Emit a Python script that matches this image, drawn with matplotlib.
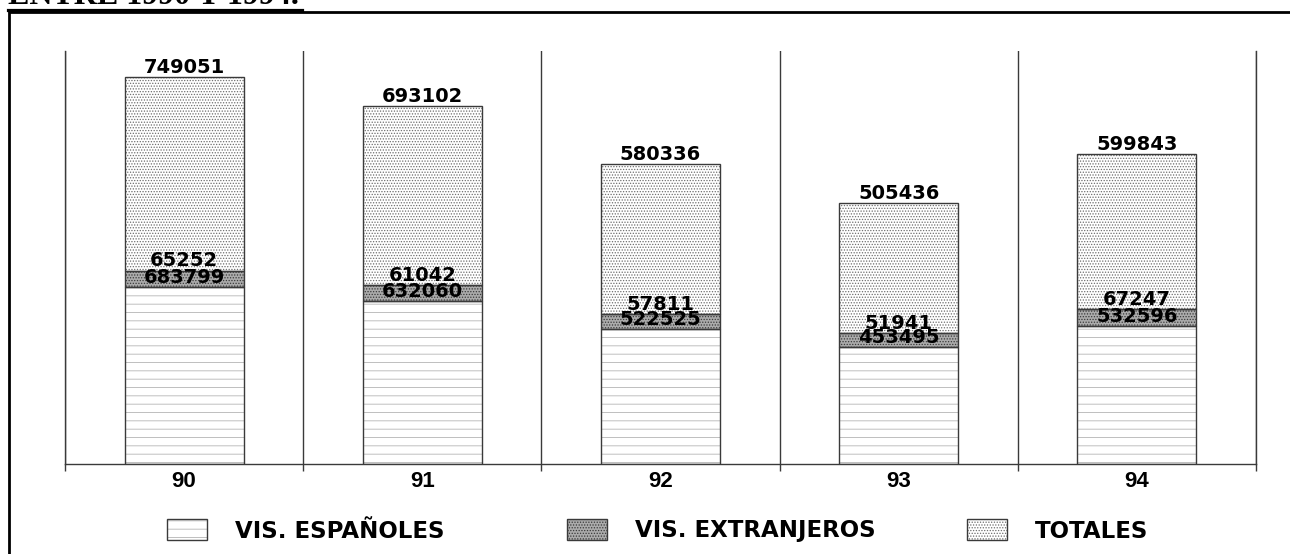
import numpy as np
import matplotlib
matplotlib.use('Agg')
import matplotlib.pyplot as plt
from matplotlib.patches import Rectangle
from matplotlib.lines import Line2D

# datos
anios = ['90', '91', '92', '93', '94']
vis_espanoles = [683799, 632060, 522525, 453495, 532596]
vis_extranjeros = [65252, 61042, 57811, 51941, 67247]
totales = [749051, 693102, 580336, 505436, 599843]
series_nombres = ['VIS. ESPAÑOLES', 'VIS. EXTRANJEROS', 'TOTALES']
titulo = 'ENTRE 1990 Y 1994.'

W, H = 1290, 554
fig = plt.figure(figsize=(W / 100, H / 100), dpi=100)
plt.rcParams['hatch.linewidth'] = 0.6

ax = fig.add_axes([65 / W, 1 - 464 / H, (1256 - 65) / W, (464 - 50.7) / H])

x = np.arange(len(anios))
estilos = [
    dict(facecolor='white', hatch='--', hcolor='#b4b4b4'),
    dict(facecolor='#ababab', hatch='......', hcolor='#3a3a3a'),
    dict(facecolor='white', hatch='......', hcolor='#6e6e6e'),
]
series = [vis_espanoles, vis_extranjeros, totales]

base = np.zeros(len(anios))
for valores, est in zip(series, estilos):
    valores = np.array(valores)
    ax.bar(x, valores, 0.5, bottom=base, color=est['facecolor'],
           hatch=est['hatch'], edgecolor=est['hcolor'], linewidth=0, zorder=2)
    ax.bar(x, valores, 0.5, bottom=base, fill=False, edgecolor='#3a3a3a',
           linewidth=1, zorder=3)
    tope = base + valores
    for xi, yi, v in zip(x, tope, valores):
        ax.annotate(str(v), (xi, yi), xytext=(0, 3), textcoords='offset points',
                    ha='center', va='baseline', fontsize=14, fontweight='bold',
                    family='DejaVu Sans', zorder=5)
    base = tope

ax.set_xlim(-0.5, len(anios) - 0.5)
ax.set_ylim(0, 1600000)
ax.set_xticks(x)
ax.set_xticklabels(anios, fontsize=16, fontweight='bold', family='Liberation Sans')
ax.set_xticks(np.arange(len(anios) + 1) - 0.5, minor=True)
ax.tick_params(axis='x', which='major', length=0, pad=5)
ax.tick_params(axis='x', which='minor', length=5, width=1, color='#3a3a3a', direction='out')
ax.set_yticks([])
ax.xaxis.grid(True, which='minor', color='#3a3a3a', linewidth=1)
ax.spines['top'].set_visible(False)
for s in ['bottom', 'left', 'right']:
    ax.spines[s].set_color('#3a3a3a')
    ax.spines[s].set_linewidth(1)
ax.set_axisbelow(True)

# leyenda
leg_x = [167, 567, 967]
for lx, nombre, est in zip(leg_x, series_nombres, estilos):
    r = Rectangle((lx / W, 1 - 540 / H), 40 / W, 21 / H, transform=fig.transFigure,
                  facecolor=est['facecolor'], hatch=est['hatch'],
                  edgecolor=est['hcolor'], linewidth=0)
    fig.add_artist(r)
    fig.add_artist(Rectangle((lx / W, 1 - 540 / H), 40 / W, 21 / H,
                             transform=fig.transFigure, fill=False,
                             edgecolor='#3a3a3a', linewidth=1))
    fig.text((lx + 68) / W, 1 - 531 / H, nombre, fontsize=16.5, fontweight='bold',
             family='DejaVu Sans', va='center', ha='left')

# marco y titulo
fig.add_artist(Rectangle((9 / W, -0.2), 1.2, 1.2 - 11.5 / H, transform=fig.transFigure,
                         fill=False, edgecolor='black', linewidth=2))
fig.text(8 / W, 1 - 4 / H, titulo, fontsize=23, fontweight='bold',
         family='Liberation Serif', va='baseline', ha='left')
fig.add_artist(Line2D([8 / W, 302 / W], [1 - 10.3 / H, 1 - 10.3 / H],
                      transform=fig.transFigure, color='black', linewidth=2.3))

fig.savefig('out.png', dpi=100)
